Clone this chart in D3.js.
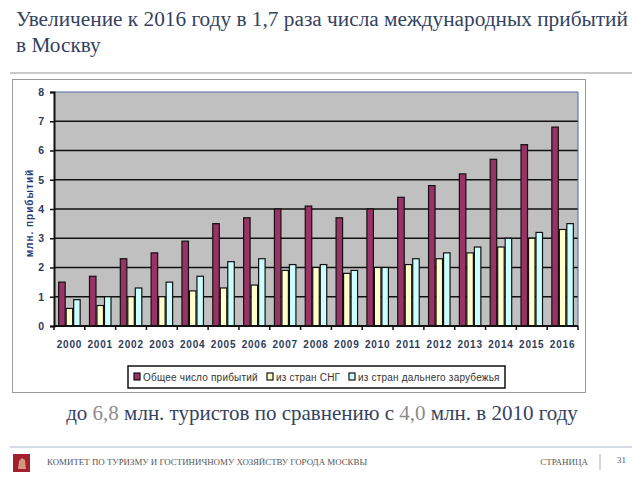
<!DOCTYPE html>
<html><head><meta charset="utf-8">
<script src="https://cdn.jsdelivr.net/npm/d3@7"></script>
<style>body{margin:0;background:#fff}</style></head>
<body><svg id="c" width="640" height="480"></svg>
<script>
const years = ["2000","2001","2002","2003","2004","2005","2006","2007","2008","2009","2010","2011","2012","2013","2014","2015","2016"];
const total = [1.5,1.7,2.3,2.5,2.9,3.5,3.7,4.0,4.1,3.7,4.0,4.4,4.8,5.2,5.7,6.2,6.8];
const cis   = [0.6,0.7,1.0,1.0,1.2,1.3,1.4,1.9,2.0,1.8,2.0,2.1,2.3,2.5,2.7,3.0,3.3];
const far   = [0.9,1.0,1.3,1.5,1.7,2.2,2.3,2.1,2.1,1.9,2.0,2.3,2.5,2.7,3.0,3.2,3.5];
const seriesNames = ["Общее число прибытий","из стран СНГ","из стран дальнего зарубежья"];
const yTicks = [0,1,2,3,4,5,6,7,8];
const titleLines = ["Увеличение к 2016 году в 1,7 раза числа международных прибытий","в Москву"];
const yTitle = "млн. прибытий";

const colors = ["#993366","#ffffcc","#ccffff"];
const svg = d3.select("#c");
const ink = "#34425f";

// title
svg.selectAll("text.title").data(titleLines).join("text")
  .attr("x",16).attr("y",(d,i)=>26+i*26)
  .attr("font-family","Liberation Serif").attr("font-size",21.3).attr("fill",ink).text(d=>d);
svg.append("line").attr("x1",10).attr("x2",632).attr("y1",73).attr("y2",73).attr("stroke","#c8c8c8").attr("stroke-width",2);

// chart frame
svg.append("rect").attr("x",12.5).attr("y",79.5).attr("width",573).attr("height",313)
  .attr("fill","#fff").attr("stroke","#9a9a9a").attr("stroke-width",1);

const L=54,R=578,T=92,B=326;
const x0 = d3.scaleBand().domain(years).range([L,R]).paddingInner(0.27).paddingOuter(0.135);
const x1 = d3.scaleBand().domain([0,1,2]).range([0,x0.bandwidth()]);
const y = d3.scaleLinear().domain([0,8]).range([B,T]);

svg.append("rect").attr("x",L).attr("y",T).attr("width",R-L).attr("height",B-T).attr("fill","#c0c0c0");
// gridlines
svg.append("g").selectAll("line").data(yTicks.filter(d=>d>0&&d<8)).join("line")
  .attr("x1",L).attr("x2",R).attr("y1",d=>y(d)).attr("y2",d=>y(d)).attr("stroke","#111").attr("stroke-width",1.5);
// top/right border
svg.append("path").attr("d",`M${L},${T}H${R}V${B}`).attr("fill","none").attr("stroke","#4f6c9c").attr("stroke-width",1);

// bars
const data = years.map((yr,i)=>({yr, v:[total[i],cis[i],far[i]]}));
const g = svg.append("g");
g.selectAll("g").data(data).join("g").attr("transform",d=>`translate(${x0(d.yr)},0)`)
  .selectAll("rect").data(d=>d.v.map((v,k)=>({v,k}))).join("rect")
  .attr("x",d=>x1(d.k)+0.5).attr("width",x1.bandwidth()-1)
  .attr("y",d=>y(d.v)).attr("height",d=>y(0)-y(d.v))
  .attr("fill",d=>colors[d.k]).attr("stroke","#111").attr("stroke-width",1.2);

// y axis
const ya = svg.append("g").attr("transform",`translate(${L},0)`)
  .call(d3.axisLeft(y).tickValues(yTicks).tickSize(4).tickPadding(6).tickFormat(d3.format("d")));
ya.select(".domain").attr("stroke","#111").attr("stroke-width",2);
ya.selectAll(".tick line").attr("stroke","#111").attr("stroke-width",1.5);
ya.selectAll("text").attr("font-family","Liberation Sans").attr("font-weight","bold").attr("font-size",10.5).attr("fill","#2e3b5a");

// x axis
svg.append("line").attr("x1",L).attr("x2",R).attr("y1",B).attr("y2",B).attr("stroke","#111").attr("stroke-width",2);
const gap = (x0.step()-x0.bandwidth())/2;
svg.append("g").selectAll("line").data(years.concat(["end"])).join("line")
  .attr("x1",(d,i)=>i<years.length? x0(d)-gap : R).attr("x2",(d,i)=>i<years.length? x0(d)-gap : R)
  .attr("y1",B).attr("y2",B+4).attr("stroke","#111").attr("stroke-width",1.5);
svg.append("g").selectAll("text").data(years).join("text")
  .attr("x",d=>x0(d)+x0.bandwidth()/2).attr("y",348).attr("text-anchor","middle")
  .attr("font-family","Liberation Sans").attr("font-weight","bold").attr("font-size",10).attr("letter-spacing",0.8)
  .attr("fill","#2e3b5a").text(d=>d);

// y title
svg.append("text").attr("transform","translate(33,213) rotate(-90)").attr("text-anchor","middle")
  .attr("font-family","Liberation Sans").attr("font-weight","bold").attr("font-size",10).attr("letter-spacing",1)
  .attr("fill","#1f3c80").text(yTitle);

// legend
svg.append("rect").attr("x",128).attr("y",366).attr("width",377).attr("height",22).attr("fill","#fff").attr("stroke","#111").attr("stroke-width",1.5);
const legX=[134,267,349];
const lg = svg.append("g").selectAll("g").data(seriesNames).join("g").attr("transform",(d,i)=>`translate(${legX[i]},377)`);
lg.append("rect").attr("x",0).attr("y",-4).attr("width",6).attr("height",7).attr("fill",(d,i)=>colors[i]).attr("stroke","#111").attr("stroke-width",1.2);
lg.append("text").attr("x",9).attr("y",3.5).attr("font-family","Liberation Sans").attr("font-size",10).attr("letter-spacing",0.2).attr("fill","#333").text(d=>d);

// subtitle
const sub = svg.append("text").attr("x",322).attr("y",420).attr("text-anchor","middle")
  .attr("font-family","Liberation Serif").attr("font-size",21).attr("fill",ink);
[["до ",ink],["6,8","#8c8c8c"],[" млн. туристов по сравнению с ",ink],["4,0","#8c8c8c"],[" млн. в 2010 году",ink]]
  .forEach(([t,c])=>sub.append("tspan").attr("fill",c).text(t));

// footer
svg.append("line").attr("x1",10).attr("x2",632).attr("y1",447).attr("y2",447).attr("stroke","#c9ced8").attr("stroke-width",1.5);
svg.append("rect").attr("x",13).attr("y",454).attr("width",17).attr("height",18).attr("fill","#a3202f");
svg.append("path").attr("d","M18,469 L19,461 L22,458 L25,460 L26,469 Z").attr("fill","#e8c9a0").attr("opacity",0.7);
svg.append("text").attr("x",47).attr("y",465).attr("font-family","Liberation Serif").attr("font-size",8.9).attr("fill","#555")
  .text("КОМИТЕТ ПО ТУРИЗМУ И ГОСТИНИЧНОМУ ХОЗЯЙСТВУ ГОРОДА МОСКВЫ");
svg.append("text").attr("x",588).attr("y",465).attr("text-anchor","end").attr("font-family","Liberation Serif").attr("font-size",9).attr("fill","#555").text("СТРАНИЦА");
svg.append("line").attr("x1",600).attr("x2",600).attr("y1",454).attr("y2",470).attr("stroke","#aab").attr("stroke-width",1);
svg.append("text").attr("x",617).attr("y",463).attr("font-family","Liberation Serif").attr("font-size",9).attr("fill","#555").text("31");
</script></body></html>
